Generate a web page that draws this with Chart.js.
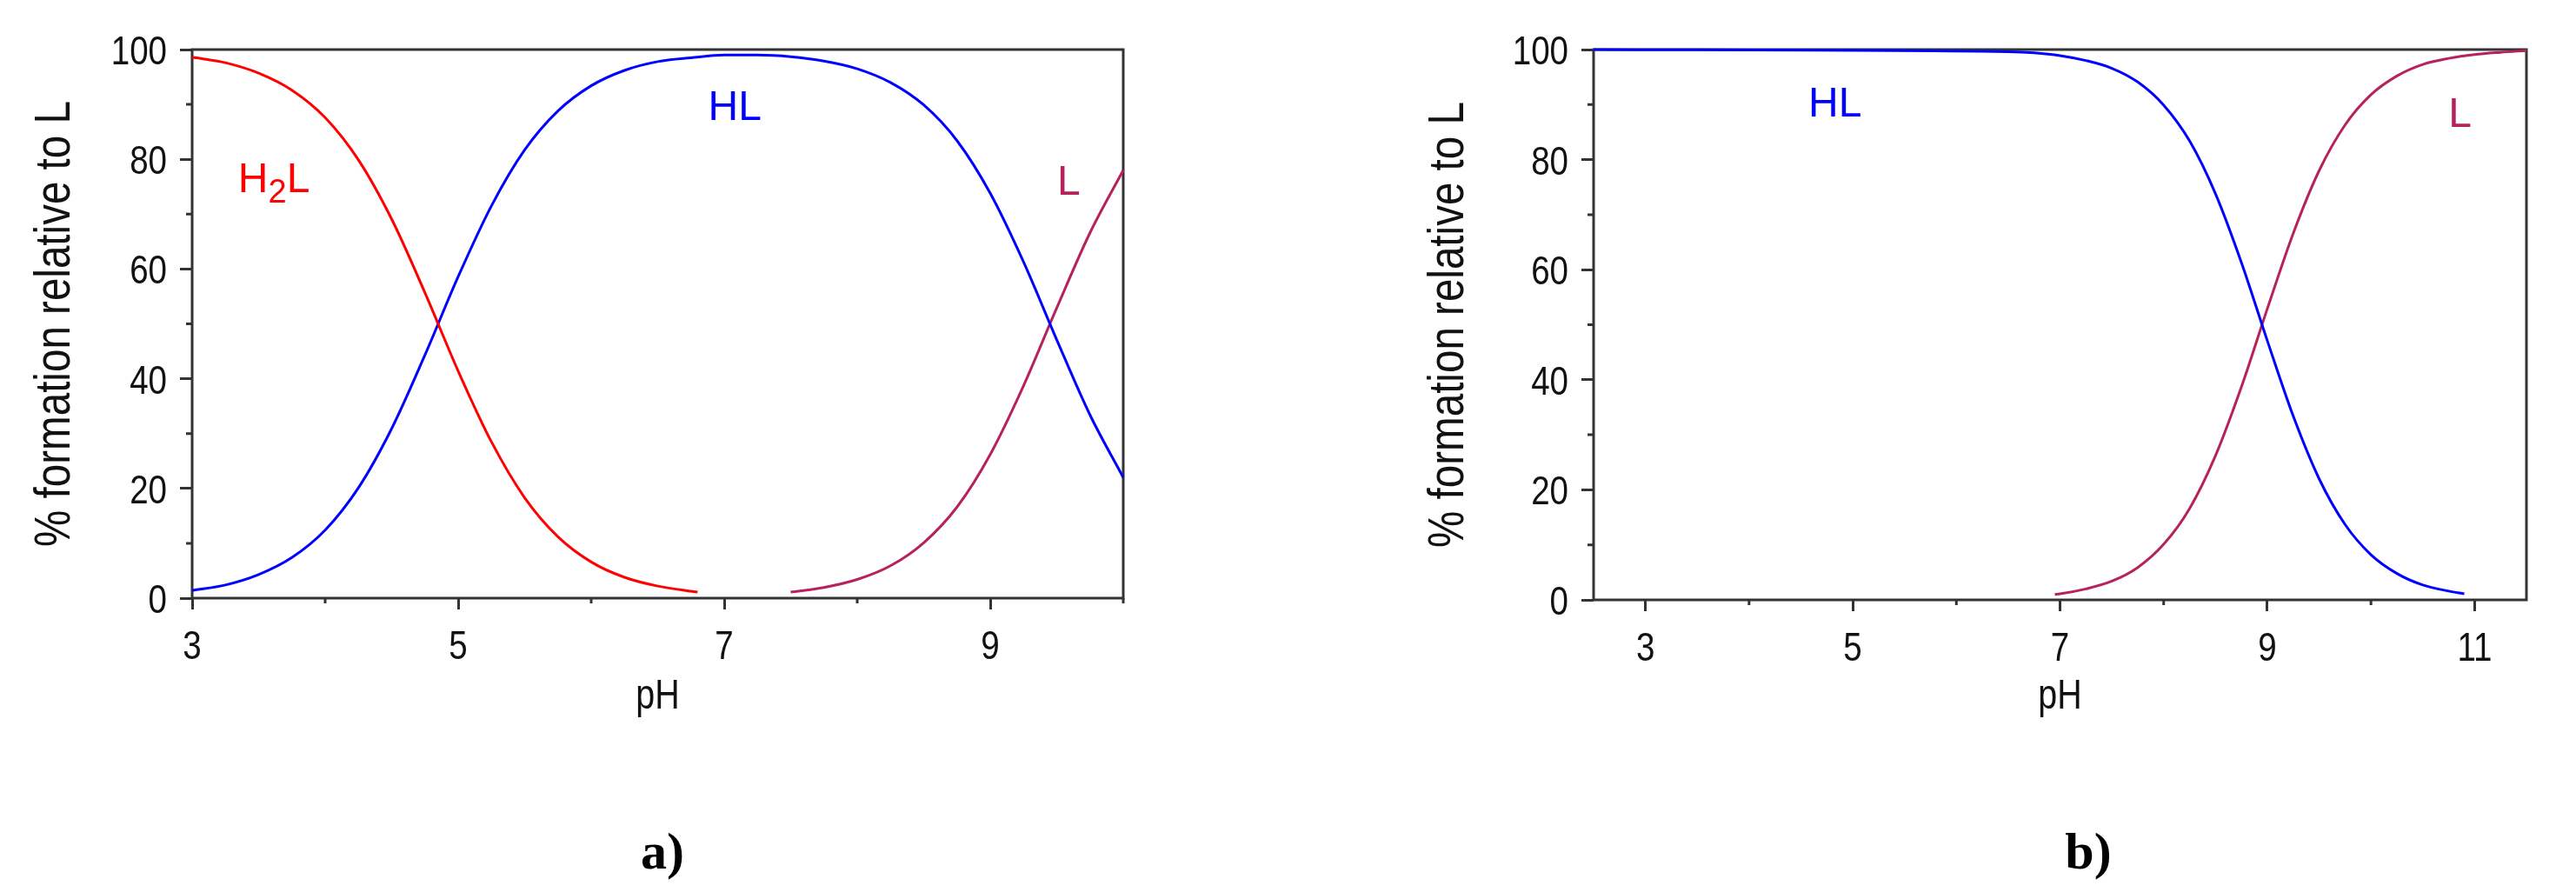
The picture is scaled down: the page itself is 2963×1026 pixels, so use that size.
<!DOCTYPE html>
<html>
<head>
<meta charset="utf-8">
<script src="https://cdn.jsdelivr.net/npm/chart.js@4.4.1/dist/chart.umd.min.js"></script>
<style>
  html, body { margin: 0; padding: 0; background: #fff; }
  body { width: 2963px; height: 1026px; position: relative; overflow: hidden; }
  .panel { position: absolute; top: 0; }
  #panelA { left: 0; }
  #panelB { left: 1500px; }
  .tag { position: absolute; top: 945px; line-height: 60px; font: bold 60px "Liberation Serif", "DejaVu Serif", serif; color: #000; transform: translateX(-50%); }
</style>
</head>
<body>
<div class="panel" id="panelA"><canvas id="chartA" width="1340" height="880"></canvas></div>
<div class="panel" id="panelB"><canvas id="chartB" width="1463" height="880"></canvas></div>
<div class="tag" style="left:762px">a)</div>
<div class="tag" style="left:2402px">b)</div>
<script>
// fonts / colours
const SANS = '"Liberation Sans", Arial, sans-serif';
const SQUEEZE = 0.82;   // the original axis text is set in a narrow face
const INK = '#333333';
const TEXT = '#111111';
const RED = '#ff0000';
const BLUE = '#0000ff';
const WINE = '#b5225e';

// axis ticks
const Y_TICKS = [0, 20, 40, 60, 80, 100];
const Y_MINOR = [10, 30, 50, 70, 90];
const X_TICKS_A = [3, 5, 7, 9];
const X_MINOR_A = [4, 6, 8, 10];
const X_TICKS_B = [3, 5, 7, 9, 11];
const X_MINOR_B = [4, 6, 8, 10];
const X_TITLE = 'pH';
const Y_TITLE = '% formation relative to L';

// panel a) - species distribution, pH 3..10
const PH_A_H2L = [3.0, 3.25, 3.5, 3.75, 4.0, 4.25, 4.5, 4.75, 5.0, 5.25, 5.5, 5.75, 6.0, 6.25, 6.5, 6.8];
const H2L_A = [98.6, 97.6, 95.7, 92.6, 87.6, 79.9, 69.1, 55.7, 41.4, 28.5, 18.3, 11.2, 6.6, 3.8, 2.2, 1.1];

const PH_A_HL = [3.0, 3.25, 3.5, 3.75, 4.0, 4.25, 4.5, 4.75, 5.0, 5.25, 5.5, 5.75, 6.0, 6.25, 6.5,
                 6.75, 7.0, 7.25, 7.5, 7.75, 8.0, 8.25, 8.5, 8.75, 9.0, 9.25, 9.5, 9.75, 10.0];
const HL_A = [1.4, 2.4, 4.3, 7.4, 12.4, 20.1, 30.9, 44.3, 58.6, 71.5, 81.7, 88.8, 93.4, 96.2, 97.8,
              98.5, 99.0, 99.0, 98.7, 97.9, 96.5, 94.0, 89.9, 83.4, 73.8, 61.3, 47.1, 33.4, 22.0];

const PH_A_L = [7.5, 7.75, 8.0, 8.25, 8.5, 8.75, 9.0, 9.25, 9.5, 9.75, 10.0];
const L_A = [1.1, 1.95, 3.4, 5.9, 10.1, 16.6, 26.2, 38.7, 52.9, 66.6, 78.0];

// panel b) - pH 2.5..11.5
const PH_B_HL = [2.5, 6.5, 6.75, 7.0, 7.25, 7.5, 7.75, 8.0, 8.25, 8.5, 8.75, 9.0, 9.25, 9.5, 9.75,
                 10.0, 10.25, 10.5, 10.75, 10.9];
const HL_B = [100, 99.6, 99.4, 98.9, 98.0, 96.6, 94.1, 89.9, 83.4, 73.8, 61.3, 47.1, 33.4, 22.0, 13.7,
              8.2, 4.8, 2.7, 1.6, 1.1];

const PH_B_L = [6.95, 7.0, 7.25, 7.5, 7.75, 8.0, 8.25, 8.5, 8.75, 9.0, 9.25, 9.5, 9.75, 10.0,
                10.25, 10.5, 10.75, 11.0, 11.25, 11.5];
const L_B = [1.0, 1.1, 2.0, 3.4, 5.9, 10.1, 16.6, 26.2, 38.7, 52.9, 66.6, 78.0, 86.3, 91.8,
             95.2, 97.3, 98.4, 99.1, 99.5, 99.8];

// species labels: [pH centre, baseline %]
const LABELS_A = [
    { parts: [['H', 0], ['2', 1], ['L', 0]], x: 3.615, y: 74, color: RED },
    { parts: [['HL', 0]], x: 7.08, y: 87.2, color: BLUE },
    { parts: [['L', 0]], x: 9.59, y: 73.5, color: WINE }
];
const LABELS_B = [
    { parts: [['HL', 0]], x: 4.83, y: 87.8, color: BLUE },
    { parts: [['L', 0]], x: 10.86, y: 86, color: WINE }
];

function pts(xs, ys) {
    return xs.map((x, i) => ({ x: x, y: ys[i] }));
}

// draws squeezed text anchored at (x, y), optionally turned for the y title
function narrowText(ctx, text, x, y, size, align, turn) {
    ctx.save();
    ctx.translate(x, y);
    if (turn) ctx.rotate(-Math.PI / 2);
    ctx.scale(SQUEEZE, 1);
    ctx.font = size + 'px ' + SANS;
    ctx.textAlign = align;
    ctx.textBaseline = 'alphabetic';
    ctx.fillStyle = TEXT;
    ctx.fillText(text, 0, 0);
    ctx.restore();
}

// box frame, minor ticks, axis text and species labels
const framePlugin = {
    id: 'frame',
    beforeDatasetsDraw(chart, args, opts) {
        const { ctx, chartArea: a, scales } = chart;
        ctx.save();
        ctx.strokeStyle = INK;
        ctx.lineWidth = 3;
        ctx.strokeRect(a.left, a.top, a.right - a.left, a.bottom - a.top);
        ctx.beginPath();
        opts.xMinor.forEach(v => {
            const px = scales.x.getPixelForValue(v);
            ctx.moveTo(px, a.bottom);
            ctx.lineTo(px, a.bottom + 6);
        });
        opts.yMinor.forEach(v => {
            const py = scales.y.getPixelForValue(v);
            ctx.moveTo(a.left, py);
            ctx.lineTo(a.left - 7, py);
        });
        ctx.stroke();
        ctx.restore();

        // tick labels
        scales.y.ticks.forEach(t => {
            narrowText(ctx, String(t.value), a.left - 29, scales.y.getPixelForValue(t.value) + 17, 47, 'right');
        });
        scales.x.ticks.forEach(t => {
            narrowText(ctx, String(t.value), scales.x.getPixelForValue(t.value), a.bottom + 70, 47, 'center');
        });
        // axis titles
        narrowText(ctx, X_TITLE, (a.left + a.right) / 2, 815, 48, 'center');
        narrowText(ctx, Y_TITLE, opts.yTitleX, (a.top + a.bottom) / 2, 58, 'center', true);
    },
    afterDatasetsDraw(chart, args, opts) {
        const { ctx, scales } = chart;
        ctx.save();
        ctx.textBaseline = 'alphabetic';
        ctx.textAlign = 'left';
        opts.labels.forEach(l => {
            const fonts = l.parts.map(p => p[1] ? '38px ' + SANS : '48px ' + SANS);
            let w = 0;
            l.parts.forEach((p, i) => { ctx.font = fonts[i]; w += ctx.measureText(p[0]).width; });
            let x = scales.x.getPixelForValue(l.x) - w / 2;
            const y = scales.y.getPixelForValue(l.y);
            ctx.fillStyle = l.color;
            l.parts.forEach((p, i) => {
                ctx.font = fonts[i];
                ctx.fillText(p[0], x, y + (p[1] ? 12 : 0));
                x += ctx.measureText(p[0]).width;
            });
        });
        ctx.restore();
    }
};

function makeChart(id, cfg) {
    return new Chart(document.getElementById(id), {
        type: 'line',
        data: {
            datasets: cfg.series.map(s => ({
                data: pts(s.x, s.y),
                borderColor: s.color,
                borderWidth: 3,
                pointRadius: 0,
                fill: false,
                cubicInterpolationMode: 'monotone',
                clip: false
            }))
        },
        options: {
            responsive: false,
            animation: false,
            devicePixelRatio: 1,
            layout: { padding: { left: 0, top: 57, right: cfg.padRight, bottom: 0 } },
            plugins: {
                legend: { display: false },
                tooltip: { enabled: false },
                frame: { xMinor: cfg.xMinor, yMinor: Y_MINOR, labels: cfg.labels, yTitleX: cfg.yTitleX }
            },
            scales: {
                x: {
                    type: 'linear',
                    min: cfg.xMin,
                    max: cfg.xMax,
                    afterFit: s => { s.height = cfg.xHeight; },
                    afterBuildTicks: s => { s.ticks = cfg.xTicks.map(v => ({ value: v })); },
                    grid: { drawOnChartArea: false, tickLength: 13, tickWidth: 3, tickColor: INK },
                    border: { display: false },
                    ticks: { display: false }
                },
                y: {
                    min: 0,
                    max: 100,
                    afterFit: s => { s.width = cfg.yWidth; },
                    afterBuildTicks: s => { s.ticks = Y_TICKS.map(v => ({ value: v })); },
                    grid: { drawOnChartArea: false, tickLength: 14, tickWidth: 3, tickColor: INK },
                    border: { display: false },
                    ticks: { display: false }
                }
            }
        },
        plugins: [framePlugin]
    });
}

makeChart('chartA', {
    xMin: 3, xMax: 10, xTicks: X_TICKS_A, xMinor: X_MINOR_A,
    yWidth: 221, xHeight: 192, padRight: 48, yTitleX: 80,
    labels: LABELS_A,
    series: [
        { x: PH_A_H2L, y: H2L_A, color: RED },
        { x: PH_A_HL, y: HL_A, color: BLUE },
        { x: PH_A_L, y: L_A, color: WINE }
    ]
});

makeChart('chartB', {
    xMin: 2.5, xMax: 11.5, xTicks: X_TICKS_B, xMinor: X_MINOR_B,
    yWidth: 333, xHeight: 190, padRight: 57, yTitleX: 183,
    labels: LABELS_B,
    series: [
        { x: PH_B_HL, y: HL_B, color: BLUE },
        { x: PH_B_L, y: L_B, color: WINE }
    ]
});
</script>
</body>
</html>
